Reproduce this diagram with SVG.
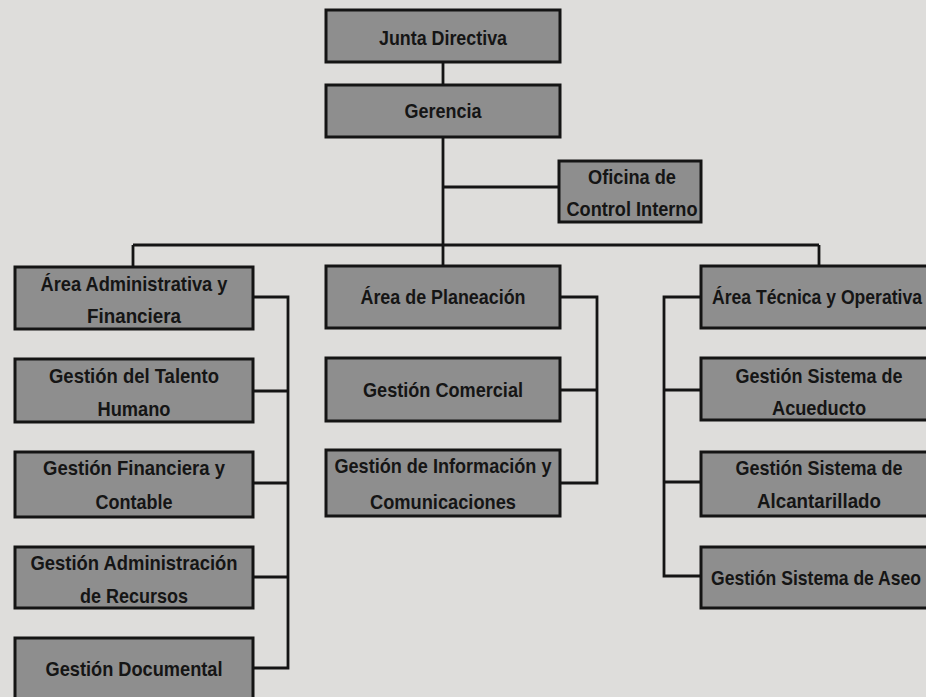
<svg xmlns="http://www.w3.org/2000/svg" width="926" height="697" viewBox="0 0 926 697">
<style>
.bg{fill:#dedddb}
.box{fill:#8e8e8e;stroke:#141414;stroke-width:3}
.fill{fill:#8e8e8e}
.edge{fill:none;stroke:#141414;stroke-width:3}
.t{font-family:"Liberation Sans",Arial,sans-serif;font-weight:bold;font-size:21px;fill:#151515;text-anchor:middle}
.c{fill:none;stroke:#141414;stroke-width:2.8}
</style>
<rect class="bg" x="0" y="0" width="926" height="697"/>
<g id="connectors">
<path class="c" d="M443 62V85M443 137V245M443 187H559M133 245H819M133 245V267M443 245V266M819 245V266"/>
<path class="c" d="M253 297H288V668H253M253 391H288M253 483H288M253 577H288"/>
<path class="c" d="M560 297H597V483H560M560 390H597"/>
<path class="c" d="M701 297H664V576H701M664 390H701M664 482H701"/>
</g>
<g id="junta">
<rect class="box" x="326" y="10" width="234" height="52"/>
<text class="t" x="443" y="45" textLength="128" lengthAdjust="spacingAndGlyphs">Junta Directiva</text>
</g>
<g id="gerencia">
<rect class="box" x="326" y="85" width="234" height="52"/>
<text class="t" x="443" y="118" textLength="77" lengthAdjust="spacingAndGlyphs">Gerencia</text>
</g>
<g id="oficina">
<rect class="box" x="559" y="161" width="142" height="61"/>
<text class="t" x="632" y="184" textLength="88" lengthAdjust="spacingAndGlyphs">Oficina de</text>
<text class="t" x="632" y="216" textLength="131" lengthAdjust="spacingAndGlyphs">Control Interno</text>
</g>
<g id="area-admin">
<rect class="box" x="15" y="267" width="238" height="62"/>
<text class="t" x="134" y="291" textLength="187" lengthAdjust="spacingAndGlyphs">Área Administrativa y</text>
<text class="t" x="134" y="323" textLength="94" lengthAdjust="spacingAndGlyphs">Financiera</text>
</g>
<g id="talento">
<rect class="box" x="15" y="359" width="238" height="63"/>
<text class="t" x="134" y="383" textLength="170" lengthAdjust="spacingAndGlyphs">Gestión del Talento</text>
<text class="t" x="134" y="416" textLength="73" lengthAdjust="spacingAndGlyphs">Humano</text>
</g>
<g id="financiera">
<rect class="box" x="15" y="452" width="238" height="65"/>
<text class="t" x="134" y="475" textLength="182" lengthAdjust="spacingAndGlyphs">Gestión Financiera y</text>
<text class="t" x="134" y="509" textLength="77" lengthAdjust="spacingAndGlyphs">Contable</text>
</g>
<g id="recursos">
<rect class="box" x="15" y="547" width="238" height="61"/>
<text class="t" x="134" y="570" textLength="207" lengthAdjust="spacingAndGlyphs">Gestión Administración</text>
<text class="t" x="134" y="603" textLength="108" lengthAdjust="spacingAndGlyphs">de Recursos</text>
</g>
<g id="documental">
<rect class="box" x="15" y="638" width="238" height="64"/>
<text class="t" x="134" y="676" textLength="177" lengthAdjust="spacingAndGlyphs">Gestión Documental</text>
</g>
<g id="planeacion">
<rect class="box" x="326" y="266" width="234" height="62"/>
<text class="t" x="443" y="304" textLength="165" lengthAdjust="spacingAndGlyphs">Área de Planeación</text>
</g>
<g id="comercial">
<rect class="box" x="326" y="358" width="234" height="63"/>
<text class="t" x="443" y="397" textLength="160" lengthAdjust="spacingAndGlyphs">Gestión Comercial</text>
</g>
<g id="informacion">
<rect class="box" x="326" y="450" width="234" height="66"/>
<text class="t" x="443" y="473" textLength="217" lengthAdjust="spacingAndGlyphs">Gestión de Información y</text>
<text class="t" x="443" y="509" textLength="146" lengthAdjust="spacingAndGlyphs">Comunicaciones</text>
</g>
<g id="area-tecnica">
<rect class="fill" x="701" y="266" width="225" height="62"/>
<path class="edge" d="M926 266H701V328H926"/>
<text class="t" x="817" y="304" textLength="210" lengthAdjust="spacingAndGlyphs">Área Técnica y Operativa</text>
</g>
<g id="acueducto">
<rect class="fill" x="701" y="358" width="225" height="62"/>
<path class="edge" d="M926 358H701V420H926"/>
<text class="t" x="819" y="383" textLength="167" lengthAdjust="spacingAndGlyphs">Gestión Sistema de</text>
<text class="t" x="819" y="415" textLength="94" lengthAdjust="spacingAndGlyphs">Acueducto</text>
</g>
<g id="alcantarillado">
<rect class="fill" x="701" y="452" width="225" height="64"/>
<path class="edge" d="M926 452H701V516H926"/>
<text class="t" x="819" y="475" textLength="167" lengthAdjust="spacingAndGlyphs">Gestión Sistema de</text>
<text class="t" x="819" y="508" textLength="124" lengthAdjust="spacingAndGlyphs">Alcantarillado</text>
</g>
<g id="aseo">
<rect class="fill" x="701" y="547" width="225" height="61"/>
<path class="edge" d="M926 547H701V608H926"/>
<text class="t" x="816" y="585" textLength="210" lengthAdjust="spacingAndGlyphs">Gestión Sistema de Aseo</text>
</g>
</svg>
